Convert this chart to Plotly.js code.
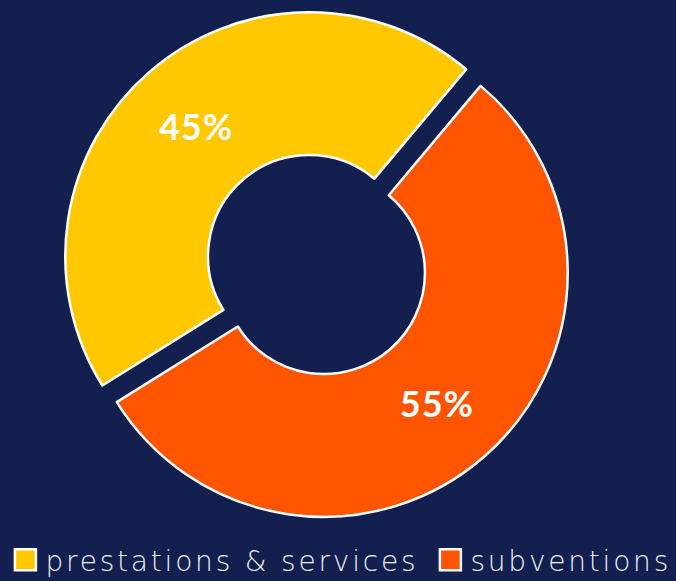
<!DOCTYPE html>
<html>
<head>
<meta charset="utf-8">
<script src="https://cdn.plot.ly/plotly-3.0.1.min.js"></script>
<style>
  html, body { margin: 0; padding: 0; background: #121f4f; }
  #chart { width: 676px; height: 581px; }
  .legendtext { letter-spacing: 2.8px; }
  .slicetext { letter-spacing: 1px; }
</style>
</head>
<body>
<div id="chart"></div>
<script>
const categories = ["prestations & services", "subventions"];
const shares = [45, 55];
const sliceColors = ["#FFC800", "#FF5500"];

const trace = {
  type: "pie",
  labels: categories,
  values: shares,
  sort: false,
  direction: "clockwise",
  rotation: -122,
  hole: 0.415,
  pull: [0.045, 0.045],
  domain: { x: [0.091, 0.8454], y: [0.1058, 0.9836] },
  marker: { colors: sliceColors, line: { color: "#ffffff", width: 2.5 } },
  textinfo: "percent",
  texttemplate: "%{percent:.0%}",
  textposition: "inside",
  insidetextorientation: "horizontal",
  insidetextfont: { color: "#ffffff", size: 36, family: "Lato", weight: "bold" },
  hoverinfo: "skip"
};

const layout = {
  width: 676,
  height: 581,
  paper_bgcolor: "#121f4f",
  plot_bgcolor: "#121f4f",
  margin: { l: 0, r: 0, t: 0, b: 0, autoexpand: false },
  showlegend: true,
  legend: {
    orientation: "h",
    x: 0.008, xref: "paper", xanchor: "left",
    y: 0.036, yref: "container", yanchor: "middle",
    font: { color: "#eceef5", size: 28, family: "DejaVu Sans", weight: 300 },
    itemwidth: 30,
    tracegroupgap: 0,
    bgcolor: "rgba(0,0,0,0)"
  }
};

Plotly.newPlot("chart", [trace], layout, { displayModeBar: false, staticPlot: true }).then(function () {
  document.querySelectorAll(".legendpoints path").forEach(function (p) {
    const t = p.getAttribute("transform") || "";
    p.setAttribute("transform", t + " scale(1.75)");
    p.style.vectorEffect = "non-scaling-stroke";
  });
  const items = document.querySelectorAll(".legend .traces");
  if (items.length > 1) {
    const it = items[1];
    const t = it.getAttribute("transform") || "";
    it.setAttribute("transform", t + " translate(7,0)");
  }
});
</script>
</body>
</html>
